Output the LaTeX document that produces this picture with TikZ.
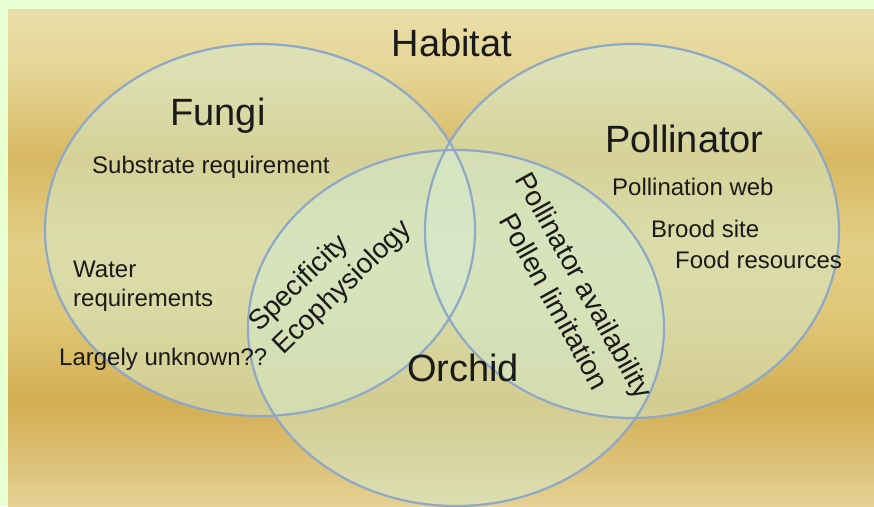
\documentclass[tikz,border=0pt]{standalone}
\usepackage{fontspec}
\setmainfont{Liberation Sans}
\usepackage{xcolor}
\usetikzlibrary{positioning}

\definecolor{frame}{HTML}{E8FFD2}
\definecolor{rimblue}{HTML}{8EA8C8}
\definecolor{veil}{HTML}{D5EBCF}
\definecolor{ink}{HTML}{1A1A1A}
\definecolor{goldA}{HTML}{E5D194}
\definecolor{goldB}{HTML}{DFC47E}
\definecolor{goldC}{HTML}{D3AE52}
\definecolor{goldD}{HTML}{E0C87A}
\definecolor{goldE}{HTML}{E2CE85}
\definecolor{goldF}{HTML}{D8B862}
\definecolor{goldG}{HTML}{E5D392}
\definecolor{goldH}{HTML}{EADFAA}
% the path only sees the 25bp--75bp band of the shading
\pgfdeclareverticalshading{goldbg}{100bp}{color(0bp)=(goldA); color(25bp)=(goldA); color(28.5bp)=(goldB); color(35.5bp)=(goldC); color(44.5bp)=(goldD); color(51.5bp)=(goldE); color(60bp)=(goldF); color(68bp)=(goldG); color(75bp)=(goldH); color(100bp)=(goldH)}

\begin{document}
\begin{tikzpicture}[x=1pt, y=-1pt, text=ink, every node/.style={inner sep=0pt},
    big/.style={font=\fontsize{38}{44}\selectfont},
    small/.style={font=\fontsize{24}{29}\selectfont, anchor=base west},
    slant/.style={font=\fontsize{28}{34}\selectfont},
    veilfill/.style={fill=veil, fill opacity=0.5},
    rim/.style={draw=rimblue, line width=2.2pt}]
    \useasboundingbox (0,0) rectangle (874,506);
    \fill[frame] (0,0) rectangle (874,506);
    \shade[shading=goldbg] (8,9) rectangle (874,506);

    % three sets
    \fill[veilfill] (260,230) ellipse [x radius=215, y radius=186];
    \fill[veilfill] (632,231) ellipse [x radius=207, y radius=187];
    \fill[veilfill] (456,328) ellipse [x radius=208, y radius=178];
    \draw[rim] (260,230) ellipse [x radius=215, y radius=186];
    \draw[rim] (632,231) ellipse [x radius=207, y radius=187];
    \draw[rim] (456,328) ellipse [x radius=208, y radius=178];

    \node[big, anchor=base] (habitat) at (452,56) {Habitat};
    \node[big, anchor=base] (fungi) at (218,125) {Fungi};
    \node[big, anchor=base west] (pollinator) at (605,152) {Pollinator};
    \node[big, anchor=base] (orchid) at (463,381) {Orchid};

    \node[small] (substrate) at (92,173) {Substrate requirement};
    \node[small] (water) at (73,277) {Water};
    \node[small] (waterreq) at (73,306) {requirements};
    \node[small] (unknown) at (59,365) {Largely unknown??};
    \node[small] (web) at (612,195) {Pollination web};
    \node[small] (brood) at (651,237) {Brood site};
    \node[small] (food) at (675,268) {Food resources};

    % overlaps
    \node[slant, rotate=44, anchor=base west] (spec) at (259,333) {Specificity};
    \node[slant, rotate=44, anchor=base west] (eco) at (283,356) {Ecophysiology};
    \node[slant, rotate=-61, anchor=base] (avail) at (576,290) {Pollinator availability};
    \node[slant, rotate=-61, anchor=base] (limit) at (546,306) {Pollen limitation};
\end{tikzpicture}
\end{document}
